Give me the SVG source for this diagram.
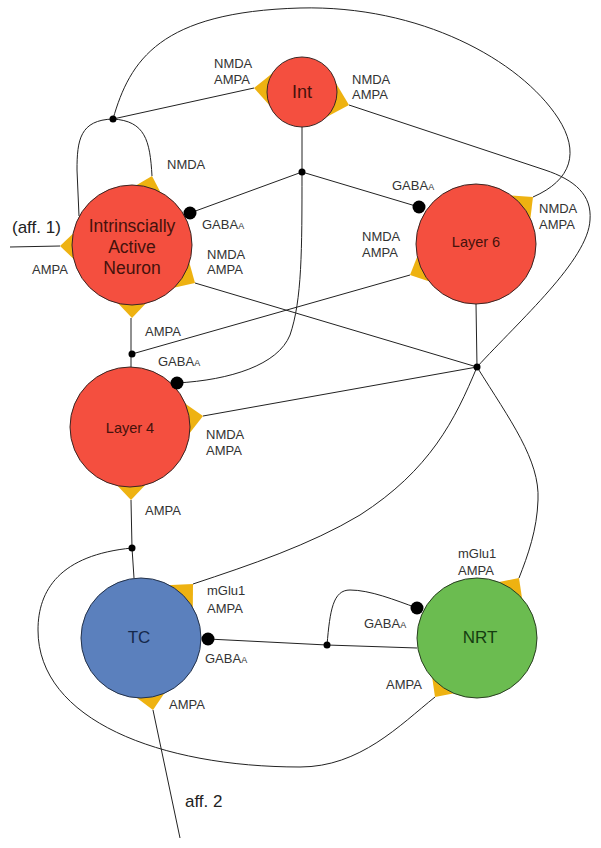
<svg xmlns="http://www.w3.org/2000/svg" xmlns:xlink="http://www.w3.org/1999/xlink" width="601" height="848" viewBox="0 0 601 848">
<defs>
<style>
.bg{fill:#ffffff}
.red{fill:#F44F3F;stroke:#3a2623;stroke-width:1}
.blue{fill:#5B80BD;stroke:#24324a;stroke-width:1}
.green{fill:#6BBC50;stroke:#2a3f22;stroke-width:1}
.nl{font-family:"Liberation Sans",Arial,sans-serif;text-anchor:middle}
.rt{fill:#45120c}
.bt{fill:#15284a}
.gt{fill:#153d10}
.lab{font-family:"Liberation Sans",Arial,sans-serif;font-size:13px;fill:#333333}
.aff{font-family:"Liberation Sans",Arial,sans-serif;font-size:17px;fill:#222222}
.sub{font-size:9px}
.wire{fill:none;stroke:#222222;stroke-width:1}
.syn{fill:#EEB211}
.inh{fill:#000000}
.jn{fill:#000000}
</style>
<polygon id="tri" class="syn" points="0,0 20,-19 20,19"/>
</defs>
<rect class="bg" x="0" y="0" width="601" height="848"/>

<g id="terminals">
<use xlink:href="#tri" transform="translate(254,88) rotate(4.8)"/>
<use xlink:href="#tri" transform="translate(349,105) rotate(195.5)"/>
<use xlink:href="#tri" transform="translate(60,246) rotate(0)"/>
<use xlink:href="#tri" transform="translate(152,176) rotate(106)"/>
<use xlink:href="#tri" transform="translate(195,283) rotate(-149)"/>
<use xlink:href="#tri" transform="translate(132,318) rotate(-90)"/>
<use xlink:href="#tri" transform="translate(410,275) rotate(-25)"/>
<use xlink:href="#tri" transform="translate(533,197) rotate(140.5)"/>
<use xlink:href="#tri" transform="translate(203,416) rotate(171.4)"/>
<use xlink:href="#tri" transform="translate(131,500) rotate(-90)"/>
<use xlink:href="#tri" transform="translate(193,584) rotate(134)"/>
<use xlink:href="#tri" transform="translate(153,710) rotate(-99.5)"/>
<use xlink:href="#tri" transform="translate(519,578) rotate(125)"/>
<use xlink:href="#tri" transform="translate(435,697) rotate(-54.6)"/>
</g>

<g id="node-int">
<circle class="red" cx="302" cy="92" r="35"/>
<text class="nl rt" x="302" y="98" font-size="18">Int</text>
</g>
<g id="node-ian">
<circle class="red" cx="132" cy="245" r="60"/>
<text class="nl rt" x="132" y="232" font-size="17.5">Intrinscially</text>
<text class="nl rt" x="132" y="253" font-size="17.5">Active</text>
<text class="nl rt" x="132" y="274" font-size="17.5">Neuron</text>
</g>
<g id="node-layer6">
<circle class="red" cx="476" cy="244" r="60"/>
<text class="nl rt" x="476" y="247" font-size="14.5">Layer 6</text>
</g>
<g id="node-layer4">
<circle class="red" cx="130" cy="427" r="60"/>
<text class="nl rt" x="130" y="433" font-size="14.5">Layer 4</text>
</g>
<g id="node-tc">
<circle class="blue" cx="141" cy="638" r="60"/>
<text class="nl bt" x="139" y="643" font-size="17">TC</text>
</g>
<g id="node-nrt">
<circle class="green" cx="477" cy="638" r="60"/>
<text class="nl gt" x="480" y="643" font-size="17">NRT</text>
</g>

<g id="connectors">
<!-- IAN outputs via J1 -->
<path class="wire" d="M79,216 L77,170 C77,140 80,120 113,119"/>
<path class="wire" d="M113,119 L254,88"/>
<path class="wire" d="M113,119 C130,60 160,12 300,8 C420,5 520,60 558,118 C580,152 572,180 533,197"/>
<path class="wire" d="M113,119 C145,121 150,140 152,176"/>
<!-- Int outputs via J2 -->
<path class="wire" d="M302,127 L302,172"/>
<path class="wire" d="M302,172 L190,213"/>
<path class="wire" d="M302,172 L419,207"/>
<path class="wire" d="M302,172 C302,250 302,300 290,335 C278,365 230,380 177,383"/>
<!-- Layer 6 outputs via J3 -->
<path class="wire" d="M476,304 L477,367"/>
<path class="wire" d="M477,367 C520,320 588,260 590,220 C592,195 575,180 545,170 L349,105"/>
<path class="wire" d="M477,367 L195,283"/>
<path class="wire" d="M477,367 L203,416"/>
<path class="wire" d="M477,367 C455,420 430,470 360,515 C310,545 250,565 193,584"/>
<path class="wire" d="M477,367 C510,420 540,460 538,500 C537,530 528,555 519,578"/>
<!-- Layer 4 outputs via J4 -->
<path class="wire" d="M131,367 L131,318"/>
<path class="wire" d="M132,354 L410,275"/>
<!-- TC outputs via J5 -->
<path class="wire" d="M134,578 L132,548 L131,500"/>
<path class="wire" d="M132,548 C60,555 38,590 38,630 C38,720 160,767 300,767 C360,767 400,725 435,697"/>
<!-- NRT outputs via J6 -->
<path class="wire" d="M417,648 L327,645 L208,639"/>
<path class="wire" d="M327,645 C330,610 333,590 350,590 C370,590 395,600 417,608"/>
<!-- afferents -->
<path class="wire" d="M10,247 L60,246"/>
<path class="wire" d="M180,838 L153,710"/>

<!-- inhibitory synapses -->
<circle class="inh" cx="190" cy="213" r="6.5"/>
<circle class="inh" cx="419" cy="207" r="6.5"/>
<circle class="inh" cx="177" cy="383" r="6.5"/>
<circle class="inh" cx="208" cy="639" r="6.5"/>
<circle class="inh" cx="417" cy="608" r="6.5"/>

<!-- junctions -->
<circle class="jn" cx="113" cy="119" r="3.5"/>
<circle class="jn" cx="302" cy="172" r="3.5"/>
<circle class="jn" cx="477" cy="367" r="3.5"/>
<circle class="jn" cx="132" cy="354" r="3.5"/>
<circle class="jn" cx="132" cy="548" r="3.5"/>
<circle class="jn" cx="327" cy="645" r="3.5"/>
</g>

<g id="labels">
<text class="lab" x="214" y="68">NMDA</text>
<text class="lab" x="214" y="84">AMPA</text>
<text class="lab" x="352" y="84">NMDA</text>
<text class="lab" x="352" y="99">AMPA</text>
<text class="lab" x="167" y="169">NMDA</text>
<text class="lab" x="202" y="229">GABA<tspan class="sub">A</tspan></text>
<text class="lab" x="207" y="259">NMDA</text>
<text class="lab" x="207" y="274">AMPA</text>
<text class="lab" x="32" y="274">AMPA</text>
<text class="aff" x="12" y="233">(aff. 1)</text>
<text class="lab" x="145" y="336">AMPA</text>
<text class="lab" x="158" y="366">GABA<tspan class="sub">A</tspan></text>
<text class="lab" x="392" y="190">GABA<tspan class="sub">A</tspan></text>
<text class="lab" x="362" y="241">NMDA</text>
<text class="lab" x="362" y="257">AMPA</text>
<text class="lab" x="539" y="213">NMDA</text>
<text class="lab" x="539" y="229">AMPA</text>
<text class="lab" x="206" y="439">NMDA</text>
<text class="lab" x="206" y="455">AMPA</text>
<text class="lab" x="145" y="515">AMPA</text>
<text class="lab" x="207" y="595">mGlu1</text>
<text class="lab" x="207" y="613">AMPA</text>
<text class="lab" x="205" y="663">GABA<tspan class="sub">A</tspan></text>
<text class="lab" x="169" y="709">AMPA</text>
<text class="aff" x="185" y="807">aff. 2</text>
<text class="lab" x="458" y="558">mGlu1</text>
<text class="lab" x="458" y="575">AMPA</text>
<text class="lab" x="364" y="628">GABA<tspan class="sub">A</tspan></text>
<text class="lab" x="386" y="689">AMPA</text>
</g>
</svg>
